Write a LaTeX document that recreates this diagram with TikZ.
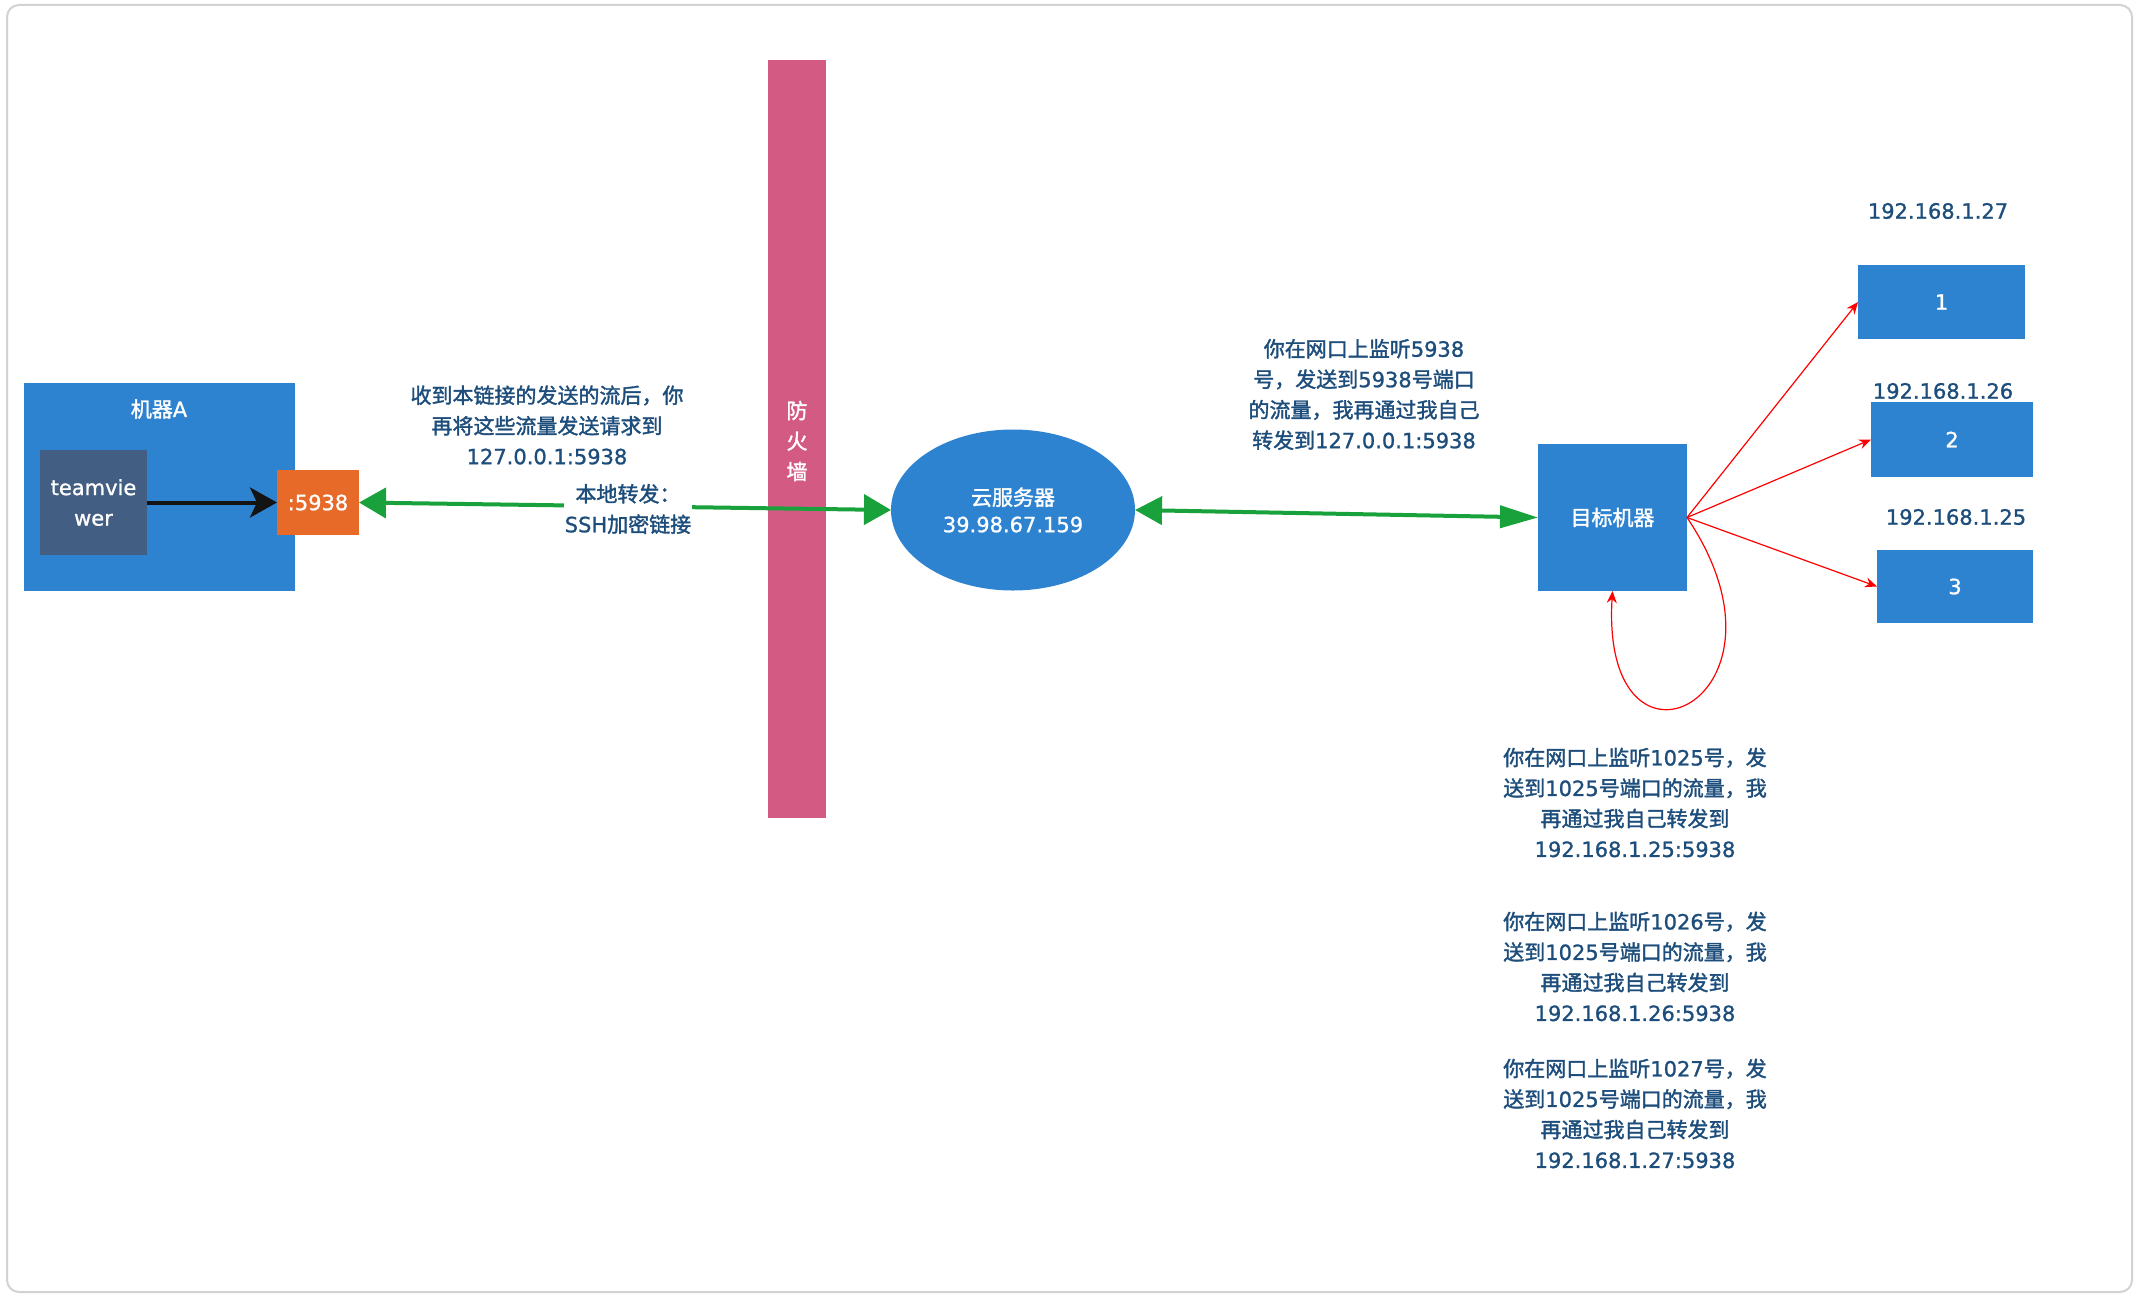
\documentclass[tikz,border=0pt]{standalone}
\usepackage{fontspec}
\setmainfont{Noto Sans CJK SC}[FakeBold=1.6]
\newfontfamily\latinfont{DejaVu Sans}[FakeBold=1.1]
\newcommand\lt[1]{{\latinfont #1}}
\usetikzlibrary{arrows.meta,shapes.geometric}
\definecolor{boxblue}{HTML}{2E83D1}
\definecolor{tvblue}{HTML}{425E82}
\definecolor{portorange}{HTML}{E76A28}
\definecolor{fwpink}{HTML}{D35A82}
\definecolor{linkgreen}{HTML}{19A23B}
\definecolor{textblue}{HTML}{1D4D7B}
\definecolor{framegray}{HTML}{D2D2D2}
\newcommand\dfont{\fontsize{21}{30.5}\selectfont}
\begin{document}
\begin{tikzpicture}[x=1pt,y=-1pt,
  box/.style={fill=boxblue, inner sep=0pt, outer sep=0pt, text=white, font=\dfont, align=center},
  lbl/.style={text=textblue, align=center, font=\dfont, inner sep=0pt},
  greenlink/.style={draw=linkgreen, line width=4pt},
  redlink/.style={draw=red, line width=1.2pt, -{Stealth[length=12pt,width=10pt]}}
]
\useasboundingbox (0,0) rectangle (2138,1298);
\fill[white] (0,0) rectangle (2138,1298);
\draw[framegray, line width=2pt, rounded corners=12pt] (7,5) rectangle (2132,1292);

% machine A
\node[box, minimum width=271pt, minimum height=208pt] (machA) at (159.5,487) {};
\node[text=white, font=\dfont, inner sep=0pt] (machAlbl) at (159,409) {机器\lt{A}};
\node[box, fill=tvblue, minimum width=107pt, minimum height=105pt] (tv) at (93.5,502.5) {\lt{teamvie}\\\lt{wer}};
\node[box, fill=portorange, minimum width=82pt, minimum height=65pt] (port) at (318,502.5) {\lt{:5938}};
\draw[black!92, line width=4pt, -{Stealth[length=27pt,width=30pt,inset=7pt]}] (tv.east) -- (port.west);

% firewall
\node[box, fill=fwpink, minimum width=58pt, minimum height=758pt] (fw) at (797,439) {};
\node[text=white, font=\dfont, align=center, inner sep=0pt] (fwlbl) at (797,441) {防\\火\\墙};

% cloud server
\node[ellipse, fill=boxblue, minimum width=244pt, minimum height=161pt, inner sep=0pt, outer sep=0pt,
      text=white, font=\fontsize{21}{27}\selectfont, align=center] (cloud) at (1013,510) {云服务器\\\lt{39.98.67.159}};

% target
\node[box, minimum width=149pt, minimum height=147pt] (target) at (1612.5,517.5) {目标机器};

% right boxes
\node[box, minimum width=167pt, minimum height=74pt] (b1) at (1941.5,302) {\lt{1}};
\node[box, minimum width=162pt, minimum height=75pt] (b2) at (1952,439.5) {\lt{2}};
\node[box, minimum width=156pt, minimum height=73pt] (b3) at (1955,586.5) {\lt{3}};
\node[lbl] (ip27) at (1938,211) {\lt{192.168.1.27}};
\node[lbl] (ip26) at (1943,391) {\lt{192.168.1.26}};
\node[lbl] (ip25) at (1956,517) {\lt{192.168.1.25}};

% green links
\draw[greenlink, {Triangle[length=27pt,width=30pt]}-{Triangle[length=27pt,width=30pt]}] (port.east) -- (cloud.west);
\draw[greenlink, {Triangle[length=27pt,width=28pt]}-{Triangle[length=38pt,width=22pt]}] (cloud.east) -- (target.west);
\node[lbl, fill=white, inner sep=1pt] (ssh) at (628,509) {本地转发：\\\lt{SSH}加密链接};

% red links
\draw[redlink] (target.east) -- (b1.west);
\draw[redlink] (target.east) -- (b2.west);
\draw[redlink] (target.east) -- (b3.west);
\draw[redlink] (target.east) .. controls (1810,700) and (1600,800) .. (target.south);

% labels
\node[lbl] (t1) at (547,425) {收到本链接的发送的流后，你\\再将这些流量发送请求到\\\lt{127.0.0.1:5938}};
\node[lbl] (t2) at (1364,394.5) {你在网口上监听\lt{5938}\\号，发送到\lt{5938}号端口\\的流量，我再通过我自己\\转发到\lt{127.0.0.1:5938}};
\node[lbl] (t3) at (1635,802.5) {你在网口上监听\lt{1025}号，发\\送到\lt{1025}号端口的流量，我\\再通过我自己转发到\\\lt{192.168.1.25:5938}};
\node[lbl] (t4) at (1635,966.5) {你在网口上监听\lt{1026}号，发\\送到\lt{1025}号端口的流量，我\\再通过我自己转发到\\\lt{192.168.1.26:5938}};
\node[lbl] (t5) at (1635,1113.5) {你在网口上监听\lt{1027}号，发\\送到\lt{1025}号端口的流量，我\\再通过我自己转发到\\\lt{192.168.1.27:5938}};
\end{tikzpicture}
\end{document}
